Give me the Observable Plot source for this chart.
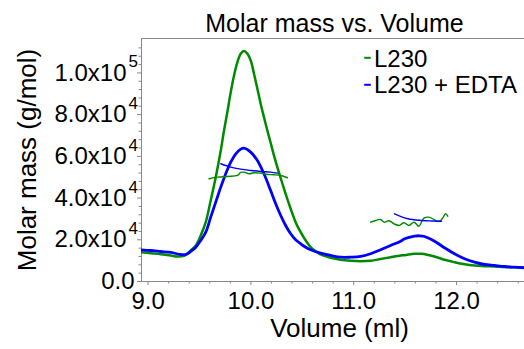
<!DOCTYPE html>
<html><head><meta charset="utf-8">
<script src="https://cdn.jsdelivr.net/npm/d3@7"></script>
<script src="https://cdn.jsdelivr.net/npm/@observablehq/plot@0.6"></script>
<style>body{margin:0;background:#fff;} svg{display:block}</style>
</head><body><div id="chart"></div>
<script>
const title = "Molar mass vs. Volume";
const xLabel = "Volume (ml)";
const yLabel = "Molar mass (g/mol)";
const seriesNames = ["L230", "L230 + EDTA"];
const seriesColors = ["#008a00", "#0000ff"];
const axisGray = "#888888";

const xTicks = [9, 10, 11, 12];
const xTickLabels = ["9.0", "10.0", "11.0", "12.0"];
const xMinorTicks = [9.2, 9.4, 9.6, 9.8, 10.2, 10.4, 10.6, 10.8, 11.2, 11.4, 11.6, 11.8, 12.2, 12.4, 12.6];
const yTicks = [0, 20000, 40000, 60000, 80000, 100000];
const yTickMantissa = ["0.0", "2.0x10", "4.0x10", "6.0x10", "8.0x10", "1.0x10"];
const yTickExponent = ["", "4", "4", "4", "4", "5"];
const yMinorTicks = [4000, 8000, 12000, 16000, 24000, 28000, 32000, 36000, 44000, 48000, 52000, 56000, 64000, 68000, 72000, 76000, 84000, 88000, 92000, 96000, 104000, 108000, 112000];
const xDomain = [8.936, 12.661];
const yDomain = [0, 116500];

// L230 trace
const volL230 = [8.936, 9.026, 9.123, 9.221, 9.286, 9.350, 9.415, 9.464, 9.512, 9.561, 9.609, 9.658, 9.707, 9.739, 9.772, 9.804, 9.836, 9.869, 9.901, 9.933, 9.966, 9.998, 10.030, 10.063, 10.095, 10.127, 10.160, 10.192, 10.224, 10.290, 10.338, 10.387, 10.435, 10.484, 10.533, 10.581, 10.630, 10.678, 10.776, 10.873, 10.970, 11.067, 11.164, 11.261, 11.359, 11.456, 11.495, 11.592, 11.657, 11.786, 11.883, 11.980, 12.078, 12.175, 12.272, 12.369, 12.466, 12.564, 12.661];
const massL230 = [14050, 13560, 13090, 12470, 11990, 12300, 14870, 17270, 22060, 28440, 38850, 50020, 62830, 72500, 81500, 90800, 98800, 105180, 109210, 110450, 109210, 105990, 99610, 92420, 85230, 78800, 72420, 66500, 60500, 49500, 42060, 34870, 28440, 23640, 19660, 16450, 14530, 12950, 11370, 10410, 9930, 9740, 9930, 10750, 11650, 12470, 12610, 13290, 13290, 11990, 10410, 9260, 8300, 7670, 7340, 7190, 6950, 6810, 6620];

// L230 + EDTA trace
const volEDTA = [8.936, 9.026, 9.123, 9.221, 9.318, 9.366, 9.415, 9.464, 9.512, 9.561, 9.609, 9.658, 9.707, 9.755, 9.804, 9.853, 9.901, 9.933, 9.998, 10.063, 10.127, 10.192, 10.241, 10.290, 10.338, 10.387, 10.435, 10.484, 10.533, 10.581, 10.678, 10.776, 10.873, 10.970, 11.067, 11.164, 11.261, 11.359, 11.456, 11.495, 11.592, 11.640, 11.689, 11.786, 11.883, 11.980, 12.078, 12.175, 12.272, 12.369, 12.466, 12.564, 12.661];
const massEDTA = [15200, 14870, 14390, 13910, 12950, 12950, 14390, 16450, 19660, 23640, 30840, 38030, 45230, 51650, 57220, 61240, 63450, 63930, 62010, 58030, 51650, 43640, 37270, 31650, 26860, 22880, 20000, 18080, 16450, 15200, 13570, 12470, 11650, 11650, 11990, 13290, 15200, 17270, 19330, 20480, 21730, 21920, 21580, 19330, 16160, 13290, 10890, 9260, 8150, 7670, 7190, 6860, 6570];

// molar mass across peaks
const mmVolL230P1 = [9.593, 9.674, 9.772, 9.869, 9.901, 9.933, 9.982, 10.030, 10.095, 10.160, 10.224, 10.290, 10.355];
const mmL230P1 = [49260, 50020, 50360, 50840, 52280, 52420, 51650, 52130, 51940, 51320, 51170, 50840, 49730];
const mmVolEDTAP1 = [9.707, 9.804, 9.901, 9.998, 10.095, 10.192, 10.260];
const mmEDTAP1 = [56450, 54820, 53860, 53240, 52760, 52420, 51940];
const mmVolL230P2 = [11.164, 11.213, 11.261, 11.294, 11.343, 11.392, 11.440, 11.489, 11.537, 11.586, 11.634, 11.682, 11.731, 11.779, 11.828, 11.861, 11.893, 11.915];
const mmL230P2 = [28440, 29260, 29740, 28440, 29110, 27670, 26860, 28150, 26860, 28440, 26520, 30360, 30840, 29740, 28780, 30070, 32470, 31320];
const mmVolEDTAP2 = [11.397, 11.527, 11.657, 11.757, 11.854];
const mmEDTAP2 = [32470, 30070, 29260, 29020, 28920];

const rows = (vs, ms) => vs.map((v, i) => ({v, m: ms[i]}));
const traces = [rows(volL230, massL230), rows(volEDTA, massEDTA)];
const mmLines = [
  [rows(mmVolL230P1, mmL230P1), rows(mmVolL230P2, mmL230P2)],
  [rows(mmVolEDTAP1, mmEDTAP1), rows(mmVolEDTAP2, mmEDTAP2)]
];
const yTickRows = yTicks.map((t, i) => ({t, base: yTickMantissa[i], exp: yTickExponent[i]}));

// short horizontal dash used as legend key
const dashSymbol = {draw(context) { context.moveTo(-3.3, 0); context.lineTo(3.3, 0); }};

const plot = Plot.plot({
  width: 524, height: 349,
  marginLeft: 141, marginRight: 0, marginTop: 38, marginBottom: 68,
  style: {fontFamily: "'Liberation Sans', Arial, sans-serif", background: "white", color: "black"},
  x: {domain: xDomain, label: null},
  y: {domain: yDomain, label: null},
  marks: [
    Plot.ruleY([yDomain[0]], {stroke: axisGray}),
    Plot.ruleY([yDomain[1]], {stroke: axisGray}),
    Plot.ruleX([xDomain[0]], {stroke: axisGray}),
    Plot.axisX(xTicks, {anchor: "bottom", tickSize: 4, tickPadding: 6.7, fontSize: 24, stroke: axisGray, fill: "black", tickFormat: d => xTickLabels[xTicks.indexOf(d)], label: null}),
    Plot.axisX(xMinorTicks, {anchor: "bottom", tickSize: 2.5, tickFormat: () => "", stroke: axisGray, label: null}),
    Plot.axisY(yTicks, {anchor: "left", tickSize: 4, tickFormat: () => "", stroke: axisGray, label: null}),
    Plot.axisY(yMinorTicks, {anchor: "left", tickSize: 2.5, tickFormat: () => "", stroke: axisGray, label: null}),
    Plot.text(yTickRows.filter(d => d.exp), {y: "t", text: "base", frameAnchor: "left", textAnchor: "end", lineAnchor: "middle", dx: -15, fontSize: 24}),
    Plot.text(yTickRows.filter(d => d.exp), {y: "t", text: "exp", frameAnchor: "left", textAnchor: "end", lineAnchor: "middle", dx: -3.5, dy: -11, fontSize: 17}),
    Plot.text(yTickRows.filter(d => !d.exp), {y: "t", text: "base", frameAnchor: "left", textAnchor: "end", lineAnchor: "middle", dx: -7, fontSize: 24}),
    ...traces.map((data, i) => Plot.line(data, {x: "v", y: "m", stroke: seriesColors[i], strokeWidth: i === 0 ? 2.5 : 2.8, curve: "catmull-rom", clip: true})),
    ...mmLines.flatMap((segs, i) => segs.map(data => Plot.line(data, {x: "v", y: "m", stroke: seriesColors[i], strokeWidth: 1.4, curve: "catmull-rom", clip: true}))),
    Plot.text([title], {frameAnchor: "top", textAnchor: "middle", lineAnchor: "middle", dx: 1.5, dy: -15, fontSize: 25, text: d => d}),
    Plot.text([xLabel], {frameAnchor: "bottom", textAnchor: "middle", lineAnchor: "middle", dx: 6.5, dy: 47.5, fontSize: 26, text: d => d}),
    Plot.text([yLabel], {frameAnchor: "left", textAnchor: "middle", lineAnchor: "middle", dx: -113.5, rotate: -90, fontSize: 26, text: d => d}),
    ...seriesNames.flatMap((name, i) => [
      Plot.dot([name], {frameAnchor: "top-left", dx: 226, dy: 19.3 + i * 27, symbol: dashSymbol, stroke: seriesColors[i], strokeWidth: 2, fill: "none"}),
      Plot.text([name], {frameAnchor: "top-left", textAnchor: "start", lineAnchor: "middle", dx: 232.5, dy: 21.2 + i * 25.7, fontSize: 24, text: d => d})
    ])
  ]
});
document.getElementById("chart").appendChild(plot);
</script>
</body></html>
